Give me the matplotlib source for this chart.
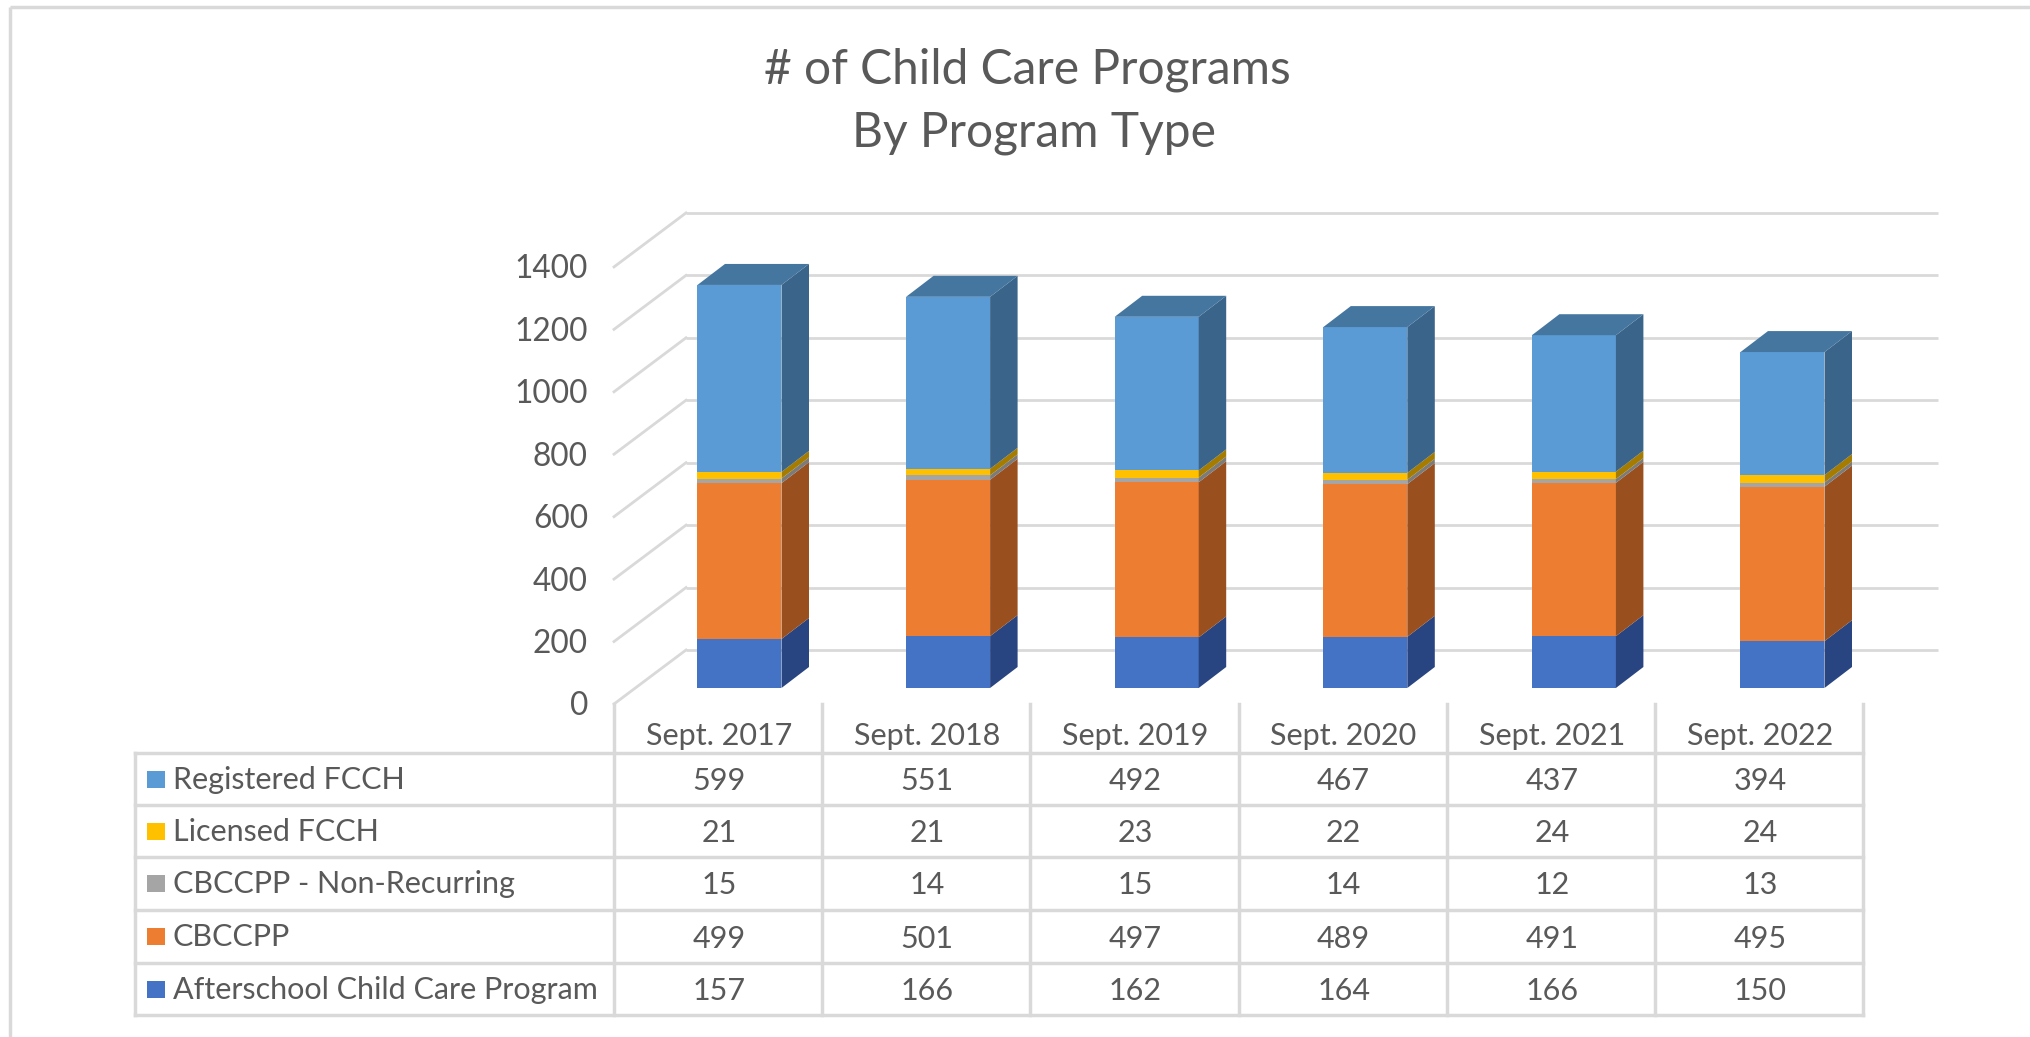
import matplotlib
matplotlib.use('Agg')
import matplotlib.pyplot as plt
from matplotlib.patches import Polygon, Rectangle

# data
categories = ['Sept. 2017', 'Sept. 2018', 'Sept. 2019', 'Sept. 2020', 'Sept. 2021', 'Sept. 2022']
afterschool = [157, 166, 162, 164, 166, 150]
cbccpp = [499, 501, 497, 489, 491, 495]
non_recurring = [15, 14, 15, 14, 12, 13]
licensed = [21, 21, 23, 22, 24, 24]
registered = [599, 551, 492, 467, 437, 394]
y_ticks = [0, 200, 400, 600, 800, 1000, 1200, 1400]

# bottom to top in the stack
series = [afterschool, cbccpp, non_recurring, licensed, registered]
names = ['Afterschool Child Care Program', 'CBCCPP', 'CBCCPP - Non-Recurring',
         'Licensed FCCH', 'Registered FCCH']
front_col = ['#4472C4', '#ED7D31', '#A5A5A5', '#FFC000', '#5B9BD5']
side_col = ['#294581', '#994F1E', '#7B7B7B', '#A67C00', '#3A6489']
top_col = '#45769F'

GRID = '#D9D9D9'
TXT = '#595959'
W, H = 2031, 1037
FONT = 'Lato'

fig = plt.figure(figsize=(W/100, H/100), dpi=100)
# pixel layer for the frame and the table
px = fig.add_axes([0, 0, 1, 1], zorder=1)
px.set_xlim(0, W)
px.set_ylim(H, 0)
px.axis('off')

# data layer: x = category number, y = value on the front plane of the bars
X0, DX = 739.5, 208.6
Y0, PER = 688.0, 0.3122
ax = fig.add_axes([0, 0, 1, 1], zorder=2)
ax.patch.set_alpha(0)
ax.set_xlim(-X0/DX, (W-X0)/DX)
ax.set_ylim(-(H-Y0)/PER, Y0/PER)
ax.axis('off')

bar_w = 84/DX
dep_x, dep_y = 27.5/DX, 21/PER    # bar depth
wall_y = 38/PER                   # back wall 0 sits above bar base
wall_x0, wall_x1 = (686-X0)/DX, (1938-X0)/DX
front_x = (614-X0)/DX
front_y = -16/PER                 # left end of the floor / side lines

# frame: only top and left edges show
px.plot([10, W], [6.5, 6.5], color=GRID, lw=2.5, solid_capstyle='butt')
px.plot([10, 10], [6.5, H], color=GRID, lw=2.5, solid_capstyle='butt')

# walls
for t in y_ticks:
    ax.plot([wall_x0, wall_x1], [t+wall_y, t+wall_y], color=GRID, lw=2, solid_capstyle='butt', zorder=1)
    ax.plot([front_x, wall_x0], [t+front_y, t+wall_y], color=GRID, lw=2, zorder=1)
    ax.text(front_x-26/DX, t+front_y-8, str(t), ha='right', va='center', fontsize=22.8,
            color=TXT, family=FONT)

# bars
for i in range(len(categories)):
    left, right = i-bar_w/2, i+bar_w/2
    bottom = 0
    for s, vals in enumerate(series):
        top = bottom+vals[i]
        ax.add_patch(Rectangle((left, bottom), bar_w, vals[i], fc=front_col[s], ec='none', zorder=3))
        ax.add_patch(Polygon([(right, bottom), (right+dep_x, bottom+dep_y),
                              (right+dep_x, top+dep_y), (right, top)],
                             fc=side_col[s], ec='none', zorder=3))
        bottom = top
    ax.add_patch(Polygon([(left, bottom), (left+dep_x, bottom+dep_y),
                          (right+dep_x, bottom+dep_y), (right, bottom)],
                         fc=top_col, ec='none', zorder=3))

# title
px.text(1027, 70, '# of Child Care Programs', ha='center', va='center', fontsize=34.5, color=TXT, family=FONT)
px.text(1034, 133, 'By Program Type', ha='center', va='center', fontsize=34.5, color=TXT, family=FONT)

# table
tl, t0, tr = 135, 614, 1863
rows_y = [753, 805, 857, 910, 963, 1015]
cols_x = [t0+(tr-t0)*i/6 for i in range(7)]
for y in rows_y:
    px.plot([tl, tr], [y, y], color=GRID, lw=2.5, zorder=1)
px.plot([tl, tl], [rows_y[0], rows_y[-1]], color=GRID, lw=2.5, zorder=1)
for x in cols_x:
    px.plot([x, x], [704, rows_y[-1]], color=GRID, lw=2.5, zorder=1)

for c, cat in enumerate(categories):
    cx = (cols_x[c]+cols_x[c+1])/2
    px.text(cx+1, 736, cat, ha='center', va='center', fontsize=22, color=TXT, family=FONT)

for r, s in enumerate(reversed(range(len(series)))):
    cy = (rows_y[r]+rows_y[r+1])/2
    px.add_patch(Rectangle((147, cy-8.5), 18, 17, fc=front_col[s], ec='none'))
    px.text(173, cy+1, names[s], ha='left', va='center', fontsize=22, color=TXT, family=FONT)
    for c in range(len(categories)):
        cx = (cols_x[c]+cols_x[c+1])/2
        px.text(cx+1, cy+2, str(series[s][c]), ha='center', va='center', fontsize=22, color=TXT, family=FONT)

fig.savefig('out.png', dpi=100)
